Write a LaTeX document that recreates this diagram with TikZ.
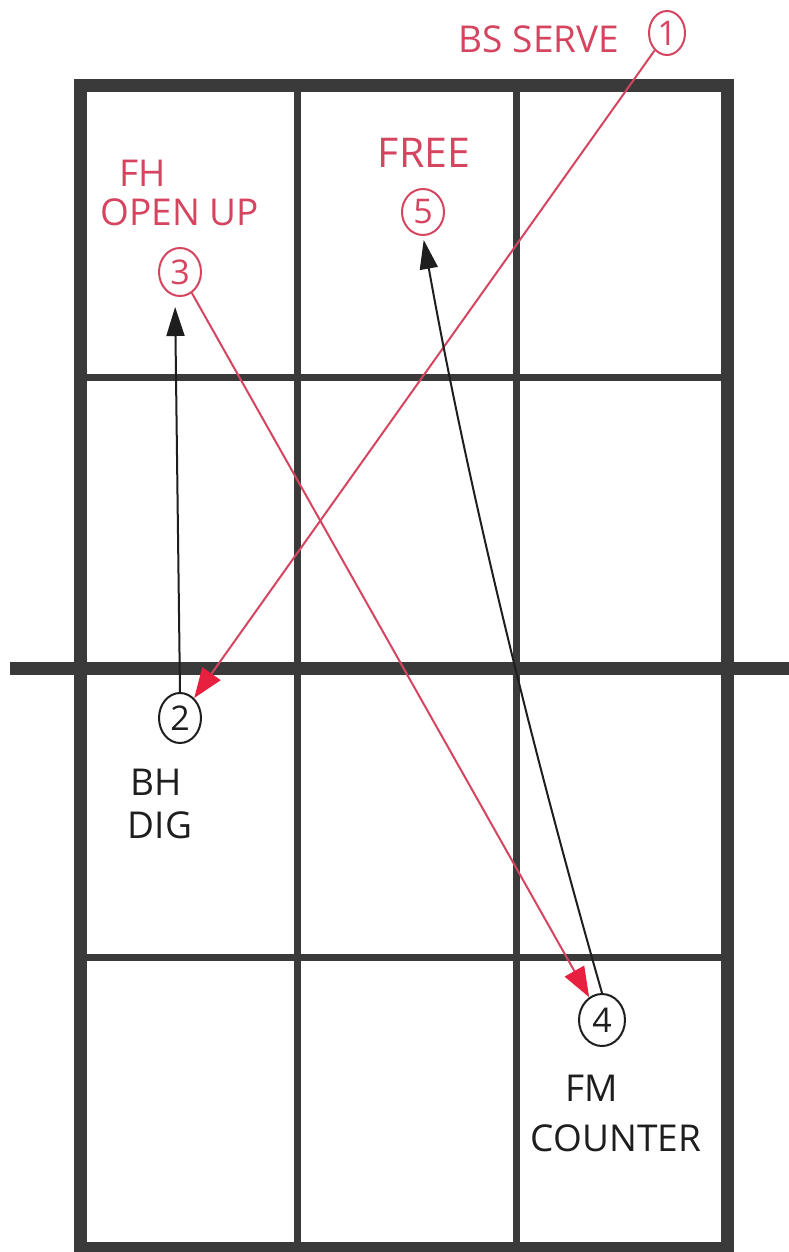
\documentclass[tikz,border=0pt]{standalone}
\usepackage{fontspec}
\setmainfont{Open Sans}
\usetikzlibrary{arrows.meta,shapes.geometric}
\definecolor{pen}{HTML}{D64560}
\definecolor{penarrow}{HTML}{E8203F}
\definecolor{ink}{HTML}{1E1E1E}
\definecolor{gridc}{HTML}{3A3A3A}
\begin{document}
\begin{tikzpicture}[x=1pt,y=-1pt,
  court/.style={draw=gridc,line width=13pt},
  cell/.style={draw=gridc,line width=7pt},
  netline/.style={draw=gridc,line width=13pt},
  num/.style={ellipse,draw,line width=2pt,inner sep=0pt,font=\fontsize{34}{34}\selectfont},
  rednum/.style={num,draw=pen,text=pen},
  blacknum/.style={num,draw=ink,text=ink},
  lbl/.style={font=\fontsize{37}{37}\selectfont,inner sep=0pt},
  redlbl/.style={lbl,text=pen},
  blacklbl/.style={lbl,text=ink},
  redshot/.style={draw=pen,line width=2pt,-{Triangle[length=30pt,width=22pt,color=penarrow]}},
  blackshot/.style={draw=ink,line width=2pt,-{Triangle[length=29pt,width=18pt]}}
]
\useasboundingbox (0,0) rectangle (789,1252);
\fill[white] (0,0) rectangle (789,1252);
% court grid
\draw[cell] (297,86) -- (297,1248);
\draw[cell] (516,86) -- (516,1248);
\draw[cell] (80,377) -- (727,377);
\draw[cell] (80,957) -- (727,957);
\draw[netline] (10,668) -- (789,668);
\draw[court] (80,86) rectangle (727,1248);
% numbered positions
\node[rednum,minimum width=36pt,minimum height=44pt] (c1) at (667,33) {1};
\node[blacknum,minimum width=42pt,minimum height=50pt] (c2) at (180,718) {2};
\node[rednum,minimum width=42pt,minimum height=48pt] (c3) at (180,272) {3};
\node[blacknum,minimum width=46pt,minimum height=52pt] (c4) at (602,1020) {4};
\node[rednum,minimum width=42pt,minimum height=46pt] (c5) at (423,212) {5};
% labels
\node[redlbl] (t1) at (539,39) {BS SERVE};
\node[redlbl] (t3a) at (143,173) {FH};
\node[redlbl] (t3b) at (180,212) {OPEN UP};
\node[redlbl,font=\fontsize{41}{41}\selectfont] (t5) at (424,153) {FREE};
\node[blacklbl] (t2a) at (156,782) {BH};
\node[blacklbl] (t2b) at (160,825) {DIG};
\node[blacklbl] (t4a) at (592,1088) {FM};
\node[blacklbl] (t4b) at (616,1138) {COUNTER};
% shots
\draw[redshot] (c1) -- (c2);
\draw[blackshot,shorten >=10pt] (c2.north) -- ([xshift=-5pt]c3.south);
\draw[redshot] (c3) -- (c4);
\draw[blackshot,shorten >=4pt] (c4.north) .. controls (530,741) and (468,487) .. (c5.south);
\end{tikzpicture}
\end{document}
